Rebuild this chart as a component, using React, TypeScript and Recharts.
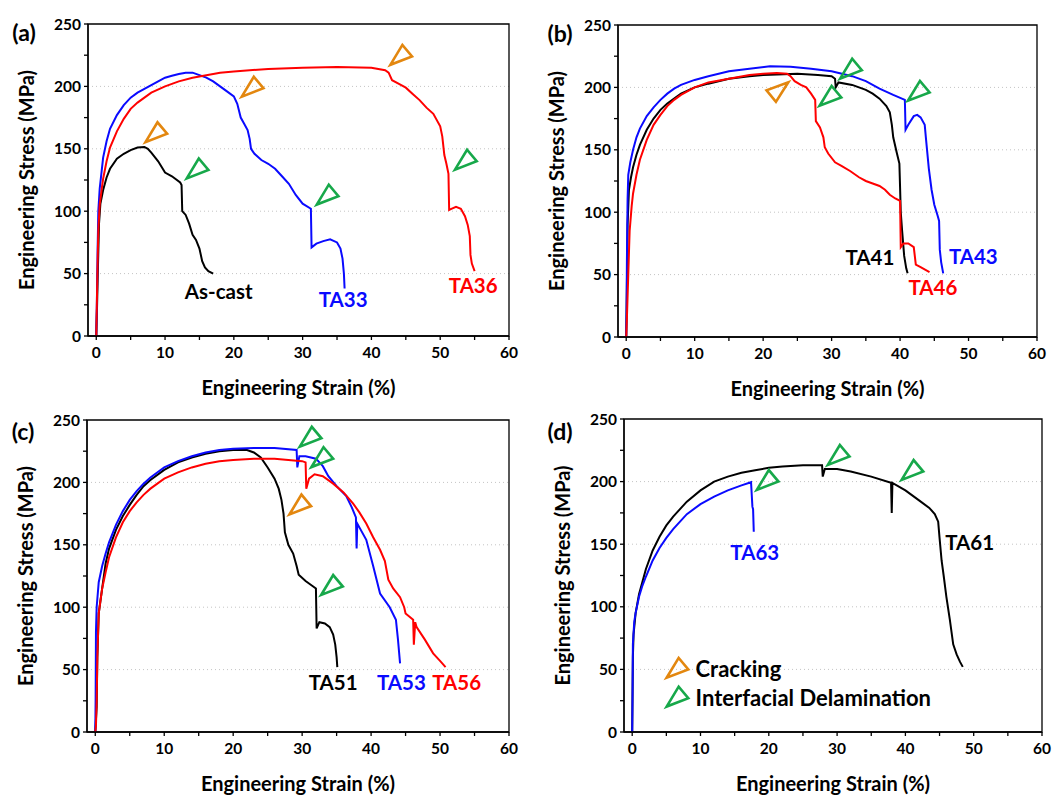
import { ComposedChart, Line, XAxis, YAxis, CartesianGrid, Scatter, ReferenceArea } from 'recharts'

const RED = '#ff0000'
const BLUE = '#0a0aff'
const BLACK = '#000000'
const ORANGE = '#e3870f'
const GREEN = '#17a84a'

// strain (%), stress (MPa)
const asCast = [[0,0],[0.1,20],[0.2,45],[0.4,90],[0.6,106],[1,117],[1.5,127],[2,134],[3,142],[4,146],[5,149],[6,151],[7,151.5],[7.5,150],[8,147],[9,140],[10,131],[11,128],[12.2,123],[12.4,121],[12.5,100],[13,97],[13.5,90],[14,81],[14.5,77],[15,70],[15.4,60],[15.8,55],[16.3,52],[17,50]]
const ta33 = [[0,0],[0.1,30],[0.2,70],[0.3,100],[0.5,118],[0.8,133],[1,143],[1.5,156],[2,166],[3,177],[4,185],[5,191],[6,195],[7,198],[8,201],[9,204],[10,207],[11,208.5],[12,210],[13,211],[14,211],[15,209],[16,207],[17,204],[18,200],[19,196],[20,192],[20.5,186],[21,175],[21.5,170],[22,165],[22.3,158],[22.5,150],[23,146],[24,141],[25,138],[26,134],[27,128],[28,122],[29,113],[30,106],[31.2,102],[31.3,71],[32,74],[33,76],[34,77.5],[35,75],[35.5,70],[35.8,62],[36,50],[36.1,38]]
const ta36 = [[0,0],[0.1,30],[0.2,60],[0.3,85],[0.5,105],[0.8,118],[1,126],[1.5,140],[2,151],[3,164],[4,174],[5,182],[6,187],[7,191],[8,195],[10,200],[12,204],[14,207],[16,209],[18,211],[20,212],[25,214],[30,215],[35,215.5],[40,215],[42,213],[42.5,211],[43,205],[44,202],[45,199],[46,194],[47,189],[48,183],[49,178],[50,168],[50.3,160],[50.6,145],[50.9,138],[51.2,130],[51.3,101],[51.7,102],[52.3,103.5],[53,102],[53.6,96],[54,89],[54.3,80],[54.4,65],[54.6,58],[55,52]]

const ta41 = [[0,0],[0.1,40],[0.2,90],[0.4,118],[0.7,128],[1,136],[1.5,146],[2,154],[3,166],[4,175],[5,182],[6,187],[7,191],[8,195],[10,200],[12,203],[15,207],[18,209],[20,210],[25,211],[28,210],[30,209],[30.5,207],[30.6,200],[31,204],[33,202],[35,198],[36,195],[37,191],[38,185],[38.5,180],[38.8,170],[39,160],[39.5,148],[39.9,139],[40,120],[40.1,100],[40.3,85],[40.6,65],[40.9,55],[41.1,51]]
const ta43 = [[0,0],[0.05,20],[0.1,60],[0.2,110],[0.3,130],[0.6,140],[1,150],[1.5,160],[2,167],[3,177],[4,184],[5,190],[6,195],[7,199],[8,202],[10,206],[12,209],[15,213],[18,215],[21,217],[24,216.5],[27,215],[30,213],[33,209],[35,205],[37,199],[39,194],[40.7,190],[40.8,166],[41.2,170],[42,177],[42.5,178],[43,176],[43.6,170],[43.8,158],[44.2,135],[44.6,118],[45,106],[45.5,97],[45.7,93],[45.8,70],[46,60],[46.3,51]]
const ta46 = [[0,0],[0.1,15],[0.3,50],[0.5,85],[0.8,105],[1,115],[1.5,130],[2,142],[3,158],[4,170],[5,178],[6,185],[7,190],[8,194],[10,200],[12,204],[15,207],[18,210],[20,211],[22,211.5],[23.5,211],[24,209],[24.6,205],[25.5,202],[26.3,200],[27,195],[27.6,190],[27.7,173],[28.3,168],[28.8,160],[29,152],[29.5,147],[30.5,140],[31.5,137],[32.7,133],[34,128],[35,125],[36,123],[37,121],[37.8,118],[38.5,114],[39.3,111],[40,109],[40.1,72],[40.5,75],[41.2,75],[42,72],[42.3,58],[43,56],[44.3,52]]

const ta51 = [[0,0],[0.2,20],[0.3,60],[0.5,95],[1,115],[1.5,135],[2,147],[3,162],[4,173],[5,182],[6,190],[7,197],[8,202],[10,210],[12,216],[14,220],[16,223],[18,225],[20,226],[22,226],[23,224],[24,220],[25,212],[26,203],[26.6,195],[27,186],[27.3,175],[27.5,160],[28,150],[28.7,143],[29.2,133],[29.5,126],[30.5,121],[31.5,117],[32,115],[32.1,83],[32.5,88],[33.3,87],[34,84],[34.5,78],[34.8,70],[35,60],[35.1,52]]
const ta53 = [[0,0],[0.05,25],[0.1,80],[0.2,100],[0.5,120],[1,133],[1.5,143],[2,152],[3,166],[4,177],[5,186],[6,193],[7,199],[8,204],[10,212],[12,217],[14,221],[16,224],[18,226],[20,227],[23,227.5],[26,227.5],[29.2,226],[29.3,212],[29.6,221],[30.5,221],[32,219],[33,213],[33.8,205],[35,197],[36.4,189],[37.2,180],[37.8,172],[37.9,147],[38,167],[39.3,154],[40.3,133],[41.3,111],[42.7,100],[43.6,90],[43.9,74],[44.2,55]]
const ta56 = [[0,0],[0.1,5],[0.2,25],[0.3,60],[0.5,95],[1,115],[1.5,128],[2,140],[3,156],[4,168],[5,177],[6,184],[7,190],[8,195],[10,203],[12,208],[14,212],[16,215],[18,217],[20,218],[23,219],[26,219],[28,218],[30,217],[30.5,216],[30.6,195],[31,203],[31.8,206.5],[33,205],[34.5,199],[36,192],[37.4,183],[38.3,176],[39.3,167],[40.3,156],[41.3,146],[42,137],[42.5,122],[43.2,115],[44.2,108],[44.8,100],[45,95],[46.1,90],[46.2,70],[46.4,88],[46.6,84],[47.8,74],[49,63],[50,57],[50.8,52]]

const ta61 = [[0,0],[0.05,30],[0.1,60],[0.2,78],[0.5,95],[1,110],[1.5,120],[2,130],[3,145],[4,156],[5,165],[6,172],[7,178],[8,184],[10,193],[12,200],[14,204],[16,207],[18,209],[20,211],[22,212],[25,213],[27.8,213],[27.9,204],[28.2,210],[30,210],[32,208],[35,204],[37.9,199],[38,175],[38.1,199],[40,193],[42,185],[43.5,179],[44.3,174],[44.8,168],[45,155],[45.3,137],[45.6,125],[46,108],[46.5,90],[47,70],[47.5,62],[48,56],[48.4,52]]
const ta63 = [[0,0],[0.05,30],[0.1,70],[0.3,88],[0.5,95],[1,108],[1.5,117],[2,124],[3,137],[4,147],[5,155],[6,162],[7,168],[8,174],[10,182],[12,188],[14,193],[16,197],[17.4,199.5],[17.6,180],[17.7,178],[17.8,160]]

// triangle markers: c = cracking, d = interfacial delamination
const marksA = [{ x: 8.6, y: 162, k: 'c' }, { x: 22.6, y: 198.5, k: 'c' }, { x: 44.2, y: 224, k: 'c' }, { x: 14.6, y: 133, k: 'd' }, { x: 33.5, y: 112, k: 'd' }, { x: 53.6, y: 140, k: 'd' }]
const marksB = [{ x: 22.2, y: 197.6, k: 'c', a: -39 }, { x: 29.7, y: 192, k: 'd' }, { x: 32.7, y: 213.7, k: 'd' }, { x: 42.6, y: 196, k: 'd' }]
const marksC = [{ x: 31.1, y: 235.3, k: 'd' }, { x: 32.8, y: 219, k: 'd' }, { x: 29.6, y: 181, k: 'c' }, { x: 34.2, y: 116.5, k: 'd' }]
const marksD = [{ x: 19.7, y: 200, k: 'd' }, { x: 30.1, y: 220, k: 'd' }, { x: 40.9, y: 208, k: 'd' }]
const legendD = [{ x: 6.5, y: 50, k: 'c', t: 'Cracking' }, { x: 6.5, y: 27, k: 'd', t: 'Interfacial Delamination' }]

const tagsA = [{ x: 17.8, y: 35.5, t: 'As-cast', c: BLACK }, { x: 35.9, y: 28.8, t: 'TA33', c: BLUE }, { x: 54.8, y: 40, t: 'TA36', c: RED }]
const tagsB = [{ x: 35.6, y: 64, t: 'TA41', c: BLACK }, { x: 50.7, y: 64.6, t: 'TA43', c: BLUE }, { x: 44.8, y: 39.5, t: 'TA46', c: RED }]
const tagsC = [{ x: 34.5, y: 39.5, t: 'TA51', c: BLACK }, { x: 44.4, y: 39.5, t: 'TA53', c: BLUE }, { x: 52.4, y: 39.5, t: 'TA56', c: RED }]
const tagsD = [{ x: 17.95, y: 143.4, t: 'TA63', c: BLUE }, { x: 49.4, y: 151, t: 'TA61', c: BLACK }]

const xTicks = [0, 5, 10, 15, 20, 25, 30, 35, 40, 45, 50, 55, 60]
const yTicks = [0, 25, 50, 75, 100, 125, 150, 175, 200, 225, 250]
const gridLines = [50, 100, 150, 200]

const toPts = (a: number[][]) => a.map(([x, y]) => ({ x, y }))

function XTick({ x, y, payload }: any) {
  const v = payload.value
  return (
    <g>
      <line x1={x} x2={x} y1={y} y2={y + 4} stroke="#000" strokeWidth={1.3} />
      {v % 10 === 0 && (
        <text x={x} y={y + 22} textAnchor="middle" fontSize={15.5} fontWeight={700} fill="#000">{v}</text>
      )}
    </g>
  )
}

function YTick({ x, y, payload }: any) {
  const v = payload.value
  return (
    <g>
      <line x1={x - 4} x2={x} y1={y} y2={y} stroke="#000" strokeWidth={1.3} />
      {v % 50 === 0 && (
        <text x={x - 7} y={y} dy="0.36em" textAnchor="end" fontSize={15.5} fontWeight={700} fill="#000">{v}</text>
      )}
    </g>
  )
}

function tri(cx: number, cy: number, color: string, angle: number) {
  const r = (angle * Math.PI) / 180
  const c = Math.cos(r)
  const s = Math.sin(r)
  const pts = [[13, 0], [-9, 7.5], [-9, -7.5]]
    .map(([px, py]) => `${cx + px * c - py * s},${cy + px * s + py * c}`)
    .join(' ')
  return <polygon points={pts} fill="none" stroke={color} strokeWidth={2.6} />
}

const Marker = (p: any) => tri(p.cx, p.cy, p.payload.k === 'c' ? ORANGE : GREEN, p.payload.a ?? 140)

const LegendItem = (p: any) => (
  <g>
    {tri(p.cx, p.cy, p.payload.k === 'c' ? ORANGE : GREEN, 140)}
    <text x={p.cx + 19} y={p.cy} dy="0.36em" fontSize={22} fontWeight={700} fill="#000">{p.payload.t}</text>
  </g>
)

const Tag = (p: any) => (
  <text x={p.cx} y={p.cy} dy="0.36em" textAnchor="middle" fontSize={20.5} fontWeight={700} fill={p.payload.c}>
    {p.payload.t}
  </text>
)

type PanelProps = {
  letter: string
  left: number
  top: number
  width: number
  height: number
  margin: { top: number; right: number; bottom: number; left: number }
  series: { data: number[][]; color: string }[]
  marks: any[]
  tags: any[]
  legend?: any[]
  letterPos: [number, number]
}

const titleStyle = { fontSize: 20, fontWeight: 700, fill: '#000' }

function Panel({ letter, left, top, width, height, margin, series, marks, tags, legend, letterPos }: PanelProps) {
  return (
    <>
      <div style={{ position: 'absolute', left, top }}>
        <ComposedChart width={width} height={height} margin={margin}>
          <CartesianGrid vertical={false} horizontalValues={gridLines} stroke="#c4c4c4" strokeDasharray="1 3" />
          <XAxis
            type="number"
            dataKey="x"
            domain={[-1.2, 60]}
            ticks={xTicks}
            interval={0}
            allowDataOverflow
            height={60}
            tickSize={0}
            tickMargin={0}
            tickLine={false}
            tick={<XTick />}
            axisLine={{ stroke: '#000', strokeWidth: 1.3 }}
            label={{ value: 'Engineering Strain (%)', position: 'insideBottom', offset: 1, style: titleStyle }}
          />
          <YAxis
            type="number"
            dataKey="y"
            domain={[0, 250]}
            ticks={yTicks}
            interval={0}
            allowDataOverflow
            width={70}
            tickSize={0}
            tickMargin={0}
            tickLine={false}
            tick={<YTick />}
            axisLine={{ stroke: '#000', strokeWidth: 1.3 }}
            label={{ value: 'Engineering Stress (MPa)', angle: -90, position: 'insideLeft', offset: 9, style: { ...titleStyle, textAnchor: 'middle' } }}
          />
          <ReferenceArea x1={-1.2} x2={60} y1={0} y2={250} fill="none" stroke="#000" strokeWidth={1.3} />
          {series.map((s, i) => (
            <Line
              key={i}
              data={toPts(s.data)}
              dataKey="y"
              type="linear"
              stroke={s.color}
              strokeWidth={2}
              dot={false}
              isAnimationActive={false}
            />
          ))}
          <Scatter data={marks} dataKey="y" shape={Marker} isAnimationActive={false} />
          <Scatter data={tags} dataKey="y" shape={Tag} isAnimationActive={false} />
          {legend && <Scatter data={legend} dataKey="y" shape={LegendItem} isAnimationActive={false} />}
        </ComposedChart>
      </div>
      <div
        style={{
          position: 'absolute',
          left: letterPos[0] - 25,
          top: letterPos[1] - 14,
          width: 50,
          lineHeight: '28px',
          textAlign: 'center',
          fontSize: 23,
          fontWeight: 700,
        }}
      >
        {letter}
      </div>
    </>
  )
}

export default function App() {
  return (
    <div style={{ position: 'absolute', left: 0, top: 0, width: 1063, height: 796, background: '#fff', fontFamily: 'Lato, "Open Sans", sans-serif' }}>
      <Panel
        letter="(a)"
        letterPos={[24, 32]}
        left={0}
        top={0}
        width={530}
        height={400}
        margin={{ top: 24, right: 21, bottom: 4, left: 18 }}
        series={[{ data: asCast, color: BLACK }, { data: ta33, color: BLUE }, { data: ta36, color: RED }]}
        marks={marksA}
        tags={tagsA}
      />
      <Panel
        letter="(b)"
        letterPos={[560, 33]}
        left={530}
        top={0}
        width={533}
        height={400}
        margin={{ top: 25, right: 26, bottom: 3, left: 18 }}
        series={[{ data: ta41, color: BLACK }, { data: ta43, color: BLUE }, { data: ta46, color: RED }]}
        marks={marksB}
        tags={tagsB}
      />
      <Panel
        letter="(c)"
        letterPos={[23, 431]}
        left={0}
        top={400}
        width={530}
        height={396}
        margin={{ top: 20, right: 21, bottom: 4, left: 17 }}
        series={[{ data: ta51, color: BLACK }, { data: ta53, color: BLUE }, { data: ta56, color: RED }]}
        marks={marksC}
        tags={tagsC}
      />
      <Panel
        letter="(d)"
        letterPos={[560, 431]}
        left={530}
        top={400}
        width={533}
        height={396}
        margin={{ top: 19, right: 21, bottom: 4, left: 24 }}
        series={[{ data: ta61, color: BLACK }, { data: ta63, color: BLUE }]}
        marks={marksD}
        tags={tagsD}
        legend={legendD}
      />
    </div>
  )
}
